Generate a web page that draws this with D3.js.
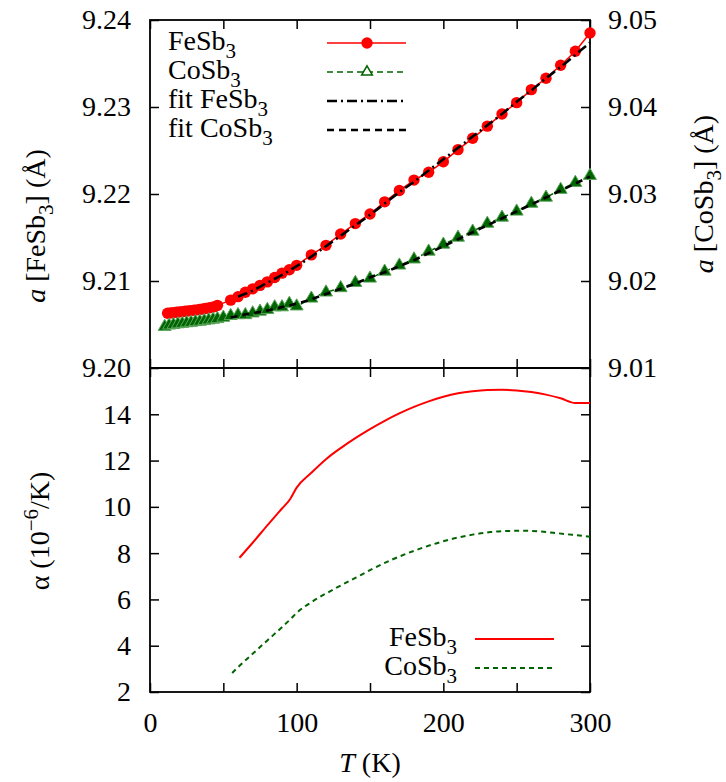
<!DOCTYPE html>
<html>
<head>
<meta charset="utf-8">
<script src="https://cdn.jsdelivr.net/npm/d3@7"></script>
<style>
  body { margin: 0; background: #fff; }
  svg text { font-family: "Liberation Serif", "Times New Roman", serif; font-size: 28px; fill: #000; }
</style>
</head>
<body>
<svg id="chart" width="726" height="782" font-family="Liberation Serif, Times New Roman, serif"></svg>
<script>
// lattice parameter a (Angstrom) vs T (K)
var feT = [12, 14, 16, 18, 20, 22, 24, 26, 28, 30, 32, 34, 36, 38, 40, 42, 44, 46,
  55, 60, 65, 70, 75, 80, 85, 90, 95, 100,
  110, 120, 130, 140, 150, 160, 170, 180, 190, 200, 210, 220, 230, 240, 250, 260, 270, 280, 290, 300];
var feA = [9.2063, 9.20633, 9.20637, 9.2064, 9.20644, 9.20648, 9.20652, 9.20656, 9.2066, 9.20664, 9.20668, 9.20673, 9.20678, 9.20684, 9.2069, 9.20697, 9.20705, 9.2072,
  9.2078, 9.2082, 9.2087, 9.2091, 9.2095, 9.2099, 9.2104, 9.2109, 9.2113, 9.2118,
  9.2130, 9.2141, 9.2154, 9.2166, 9.2177, 9.2191, 9.2204, 9.2216, 9.2225, 9.2237, 9.2251, 9.2264, 9.2278, 9.2292, 9.2305, 9.2320, 9.2333, 9.2348, 9.2364, 9.2385];

var coT = [10, 13, 16, 19, 22, 25, 28, 31, 34, 37, 40, 43, 46,
  50, 55, 60, 65, 70, 75, 80, 85, 90, 95, 100,
  110, 120, 130, 140, 150, 160, 170, 180, 190, 200, 210, 220, 230, 240, 250, 260, 270, 280, 290, 300];
var coA = [9.01475, 9.0149, 9.01497, 9.01505, 9.0151, 9.01517, 9.01522, 9.0153, 9.01535, 9.01542, 9.0155, 9.01558, 9.01565,
  9.0158, 9.0160, 9.0161, 9.0161, 9.0163, 9.0165, 9.0167, 9.0170, 9.0170, 9.0174, 9.0171,
  9.0180, 9.0187, 9.0192, 9.0198, 9.0203, 9.0211, 9.0218, 9.0225, 9.0234, 9.0242, 9.0250, 9.0257, 9.0266, 9.0273, 9.0280, 9.0289, 9.0296, 9.0305, 9.0313, 9.0321];

// fits
var fitFeT = [60, 70, 80, 90, 100, 110, 120, 130, 140, 150, 160, 170, 180, 190, 200, 210, 220, 230, 240, 250, 260, 270, 280, 290, 300];
var fitFeA = [9.2082, 9.2089, 9.2098, 9.2107, 9.2117, 9.2128, 9.2140, 9.2152, 9.2164, 9.2176, 9.2189, 9.2202, 9.2214, 9.2227, 9.2240, 9.2253, 9.2266, 9.2279, 9.2292, 9.2306, 9.2319, 9.2333, 9.2346, 9.2360, 9.2374];
var fitCoT = [55, 60, 70, 80, 90, 100, 110, 120, 130, 140, 150, 160, 170, 180, 190, 200, 210, 220, 230, 240, 250, 260, 270, 280, 290, 300];
var fitCoA = [9.0158, 9.0160, 9.0163, 9.0166, 9.0170, 9.0174, 9.0179, 9.0185, 9.0191, 9.0197, 9.0204, 9.0210, 9.0217, 9.0224, 9.0232, 9.0240, 9.0248, 9.0256, 9.0264, 9.0272, 9.0280, 9.0288, 9.0296, 9.0304, 9.0312, 9.0320];

// thermal expansion coefficient alpha (1e-6 / K)
var alphaFeT = [61, 70, 80, 90, 95.5, 100, 110, 120, 130, 140, 150, 160, 170, 180, 190, 200, 210, 220, 230, 240, 250, 260, 270, 280, 290, 300];
var alphaFe = [7.80, 8.45, 9.20, 9.93, 10.33, 10.83, 11.47, 12.06, 12.54, 12.97, 13.36, 13.72, 14.04, 14.32, 14.56, 14.76, 14.91, 15.00, 15.05, 15.06, 15.03, 14.96, 14.85, 14.69, 14.49, 14.49];
var alphaCoT = [56, 60, 70, 80, 90, 95.5, 100, 110, 125, 140, 152, 165, 180, 195, 207, 220, 232, 245, 255, 265, 275, 288, 300];
var alphaCo = [2.82, 3.07, 3.65, 4.23, 4.80, 5.13, 5.42, 5.88, 6.43, 6.93, 7.33, 7.72, 8.10, 8.42, 8.63, 8.80, 8.91, 8.96, 8.97, 8.94, 8.88, 8.79, 8.71];

var xTicks = [0, 50, 100, 150, 200, 250, 300];
var yFeTicks = [9.20, 9.21, 9.22, 9.23, 9.24];
var yCoTicks = [9.01, 9.02, 9.03, 9.04, 9.05];
var yAlphaTicks = [2, 4, 6, 8, 10, 12, 14];

var RED = '#ff0000';
var GREEN = '#006400';
var FONT = 'Liberation Serif, Times New Roman, serif';

var svg = d3.select('#chart');

var x = d3.scaleLinear().domain([0, 300]).range([150, 590]);
var yFe = d3.scaleLinear().domain([9.20, 9.24]).range([368, 20]);
var yCo = d3.scaleLinear().domain([9.01, 9.05]).range([368, 20]);
var yAl = d3.scaleLinear().domain([2, 16]).range([692, 368]);

const zip = (xs, ys) => xs.map((t, i) => [t, ys[i]]);

function tidy(g) {
  g.select('.domain').remove();
  g.attr('font-family', FONT).attr('font-size', 28);
  g.selectAll('text').attr('font-family', FONT);
  g.selectAll('.tick line').attr('stroke', '#000').attr('stroke-width', 1.5);
}

// ****************** axes ***************************
var fmt2 = d3.format('.2f');
var noLab = () => '';

svg.append('g').attr('transform', 'translate(150,0)')
  .call(d3.axisLeft(yFe).tickValues(yFeTicks).tickSize(-9).tickPadding(19).tickFormat(fmt2)).call(tidy);
svg.append('g').attr('transform', 'translate(590,0)')
  .call(d3.axisRight(yCo).tickValues(yCoTicks).tickSize(-9).tickPadding(18).tickFormat(fmt2)).call(tidy);
svg.append('g').attr('transform', 'translate(0,20)')
  .call(d3.axisTop(x).tickValues(xTicks).tickSize(-9).tickFormat(noLab)).call(tidy);
svg.append('g').attr('transform', 'translate(0,368)')
  .call(d3.axisBottom(x).tickValues(xTicks).tickSize(-9).tickFormat(noLab)).call(tidy);
svg.append('g').attr('transform', 'translate(0,368)')
  .call(d3.axisTop(x).tickValues(xTicks).tickSize(-9).tickFormat(noLab)).call(tidy);

svg.append('g').attr('transform', 'translate(150,0)')
  .call(d3.axisLeft(yAl).tickValues(yAlphaTicks).tickSize(-9).tickPadding(19)).call(tidy);
svg.append('g').attr('transform', 'translate(590,0)')
  .call(d3.axisRight(yAl).tickValues(yAlphaTicks).tickSize(-9).tickFormat(noLab)).call(tidy);
svg.append('g').attr('transform', 'translate(0,692)')
  .call(d3.axisBottom(x).tickValues(xTicks).tickSize(-9).tickPadding(20)
    .tickFormat(d => d % 100 === 0 ? d : '')).call(tidy);

// frames
[[20, 368], [368, 692]].forEach(p => {
  svg.append('rect')
    .attr('x', x(0)).attr('y', p[0])
    .attr('width', x(300) - x(0)).attr('height', p[1] - p[0])
    .attr('fill', 'none').attr('stroke', '#000').attr('stroke-width', 1.8);
});

// ****************** top panel ***************************
var lineFe = d3.line().x(d => x(d[0])).y(d => yFe(d[1]));
var lineCo = d3.line().x(d => x(d[0])).y(d => yCo(d[1]));
var triangle = d3.symbol().type(d3.symbolTriangle).size(72);

svg.append('path').datum(zip(feT, feA))
  .attr('d', lineFe).attr('fill', 'none').attr('stroke', RED).attr('stroke-width', 1.5);
svg.append('g').selectAll('circle').data(zip(feT, feA)).join('circle')
  .attr('cx', d => x(d[0])).attr('cy', d => yFe(d[1])).attr('r', 5.7).attr('fill', RED);

svg.append('path').datum(zip(coT, coA))
  .attr('d', lineCo).attr('fill', 'none').attr('stroke', GREEN).attr('stroke-width', 1.5)
  .attr('stroke-dasharray', '6,4');
svg.append('g').selectAll('path').data(zip(coT, coA)).join('path')
  .attr('d', triangle)
  .attr('transform', d => 'translate(' + x(d[0]) + ',' + yCo(d[1]) + ')')
  .attr('fill', GREEN).attr('stroke', '#5aa55a').attr('stroke-width', 1);

svg.append('path').datum(zip(fitFeT, fitFeA))
  .attr('d', lineFe.curve(d3.curveMonotoneX)).attr('fill', 'none').attr('stroke', '#000')
  .attr('stroke-width', 2.6).attr('stroke-dasharray', '10,4,2,4');
svg.append('path').datum(zip(fitCoT, fitCoA))
  .attr('d', lineCo.curve(d3.curveMonotoneX)).attr('fill', 'none').attr('stroke', '#000')
  .attr('stroke-width', 2.6).attr('stroke-dasharray', '7,5');

// ****************** bottom panel ***************************
var lineAl = d3.line().x(d => x(d[0])).y(d => yAl(d[1])).curve(d3.curveMonotoneX);
svg.append('path').datum(zip(alphaFeT, alphaFe))
  .attr('d', lineAl).attr('fill', 'none').attr('stroke', RED).attr('stroke-width', 2);
svg.append('path').datum(zip(alphaCoT, alphaCo))
  .attr('d', lineAl).attr('fill', 'none').attr('stroke', GREEN).attr('stroke-width', 2)
  .attr('stroke-dasharray', '5,4');

// ****************** text ***************************
// parts: [string, kind] where kind is 'i' italic, 'sub', 'sup' or undefined
function rich(sel, parts) {
  var shift = 0;
  sel.attr('font-family', FONT);
  parts.forEach(p => {
    var t = sel.append('tspan').text(p[0]);
    var want = p[1] === 'sub' ? 8 : p[1] === 'sup' ? -11 : 0;
    if (want !== shift) { t.attr('dy', want - shift); shift = want; }
    if (p[1] === 'sub' || p[1] === 'sup') t.attr('font-size', 21);
    if (p[1] === 'i') t.attr('font-style', 'italic');
  });
  return sel;
}

var legTop = [
  { label: [['FeSb'], ['3', 'sub']], stroke: RED, dash: null, w: 1.5, mark: 'circle' },
  { label: [['CoSb'], ['3', 'sub']], stroke: GREEN, dash: '6,4', w: 1.5, mark: 'tri' },
  { label: [['fit FeSb'], ['3', 'sub']], stroke: '#000', dash: '10,4,2,4', w: 2.6 },
  { label: [['fit CoSb'], ['3', 'sub']], stroke: '#000', dash: '7,5', w: 2.6 }
];
legTop.forEach((d, i) => {
  var yy = 43 + i * 29;
  rich(svg.append('text').attr('x', 168).attr('y', yy + 7), d.label);
  svg.append('line').attr('x1', 327).attr('x2', 406).attr('y1', yy).attr('y2', yy)
    .attr('stroke', d.stroke).attr('stroke-width', d.w).attr('stroke-dasharray', d.dash);
  if (d.mark === 'circle') {
    svg.append('circle').attr('cx', 367).attr('cy', yy).attr('r', 5.7).attr('fill', RED);
  } else if (d.mark === 'tri') {
    svg.append('path').attr('d', d3.symbol().type(d3.symbolTriangle).size(50))
      .attr('transform', 'translate(367,' + yy + ')')
      .attr('fill', '#fff').attr('stroke', GREEN).attr('stroke-width', 1.5);
  }
});

var legBot = [
  { label: [['FeSb'], ['3', 'sub']], stroke: RED, dash: null },
  { label: [['CoSb'], ['3', 'sub']], stroke: GREEN, dash: '5,4' }
];
legBot.forEach((d, i) => {
  var yy = 639 + i * 29;
  rich(svg.append('text').attr('x', 457).attr('y', yy + 7).attr('text-anchor', 'end'), d.label);
  svg.append('line').attr('x1', 475).attr('x2', 554).attr('y1', yy).attr('y2', yy)
    .attr('stroke', d.stroke).attr('stroke-width', 2).attr('stroke-dasharray', d.dash);
});

// axis titles
rich(svg.append('text').attr('text-anchor', 'middle')
  .attr('transform', 'translate(45,226) rotate(-90)'),
  [['a', 'i'], [' [FeSb'], ['3', 'sub'], ['] (Å)']]);
rich(svg.append('text').attr('text-anchor', 'middle')
  .attr('transform', 'translate(713,194) rotate(-90)'),
  [['a', 'i'], [' [CoSb'], ['3', 'sub'], ['] (Å)']]);
rich(svg.append('text').attr('text-anchor', 'middle')
  .attr('transform', 'translate(49,531) rotate(-90)'),
  [['α (10'], ['−6', 'sup'], ['/K)']]);
rich(svg.append('text').attr('text-anchor', 'middle').attr('x', 370).attr('y', 772),
  [['T', 'i'], [' (K)']]);
</script>
</body>
</html>
